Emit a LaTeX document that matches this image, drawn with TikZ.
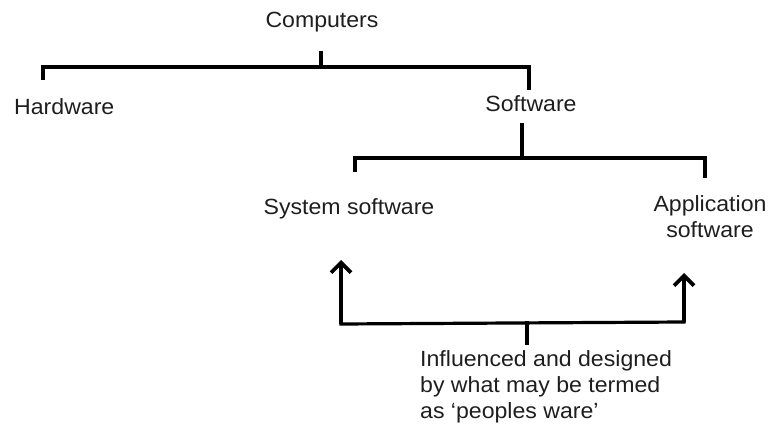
\documentclass[tikz,border=0pt]{standalone}
\usepackage{fontspec}
\setmainfont[FakeStretch=1.05]{Liberation Sans}
\usetikzlibrary{arrows.meta}
\definecolor{ink}{HTML}{1E1E1E}
\tikzset{
  lbl/.style={inner sep=0pt, text=ink, font=\fontsize{22}{26}\selectfont},
  br/.style={line width=3.2pt, line cap=rect},
  up/.style={line width=3.8pt, -{Straight Barb[length=10pt, width=20pt, line width=3.8pt]}},
}
\begin{document}
\begin{tikzpicture}[x=1pt, y=-1pt]
\useasboundingbox (0,0) rectangle (769,428);

% labels
\node[lbl, anchor=base] (comp) at (322,28) {Computers};
\node[lbl, anchor=base west] (hw) at (14,114) {Hardware};
\node[lbl, anchor=base] (sw) at (531,111) {Software};
\node[lbl, anchor=base] (sys) at (349,214) {System software};
\node[lbl, anchor=north, align=center] (app) at (710,195) {Application\\software};
\node[lbl, anchor=north west, align=left] (infl) at (420,350)
  {Influenced and designed\\by what may be termed\\as ‘peoples ware’};

% bracket under Computers
\coordinate (c0) at (321,53);
\coordinate (c1) at (321,67);
\coordinate (cl) at (43,67);
\coordinate (cr) at (529,67);
\draw[br] (c0) -- (c1);
\draw[br] (43,78) -- (cl) -- (cr) -- (529,88);

% bracket under Software
\coordinate (s0) at (522,125);
\coordinate (s1) at (522,158);
\coordinate (sl) at (355,158);
\coordinate (sr) at (705,158);
\draw[br] (s0) -- (s1);
\draw[br] (355,170) -- (sl) -- (sr) -- (705,176);

% people-ware bracket with arrows up
\coordinate (p0) at (527,343);
\coordinate (p1) at (527,323);
\coordinate (pl) at (341,324);
\coordinate (pr) at (684,322);
\coordinate (al) at (341,260);
\coordinate (ar) at (684,273);
\draw[br] (p0) -- (p1);
\draw[br] (pl) -- (pr);
\draw[up] (pl) -- (al);
\draw[up] (pr) -- (ar);
\end{tikzpicture}
\end{document}
